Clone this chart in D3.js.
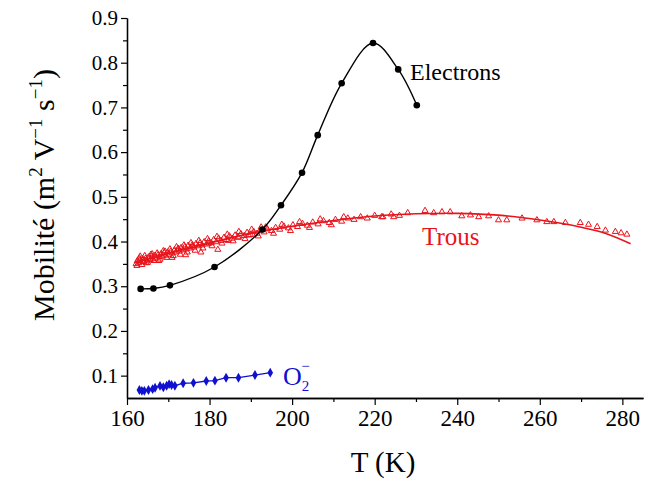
<!DOCTYPE html>
<html><head><meta charset="utf-8"><script src="https://cdn.jsdelivr.net/npm/d3@7"></script></head><body>
<svg id="c" width="648" height="481" style="position:absolute;left:0;top:0"></svg>
<script>
// ---------- data ----------
const xMajorTicks = [160, 180, 200, 220, 240, 260, 280];
const xMinorTicks = [170, 190, 210, 230, 250, 270];
const yMajorTicks = [0.1, 0.2, 0.3, 0.4, 0.5, 0.6, 0.7, 0.8, 0.9];
const yMinorTicks = [0.15, 0.25, 0.35, 0.45, 0.55, 0.65, 0.75, 0.85];

// Electrons (measured points)
const electronT = [163.3, 166.4, 170.4, 181.2, 192.8, 197.3, 202.4, 206.2, 212.0, 219.6, 225.7, 230.2];
const electronV = [0.294, 0.295, 0.302, 0.343, 0.427, 0.481, 0.554, 0.638, 0.754, 0.844, 0.785, 0.705];

// Trous (holes) measured points
const holeT = [162.2,162.5,162.8,163.1,163.4,163.8,164.1,164.5,164.9,165.2,165.6,166.0,166.3,166.7,167.1,167.5,167.9,168.2,168.6,169.0,
  169.4,169.8,170.2,170.6,171.0,171.5,171.9,172.3,172.7,173.1,173.6,174.0,174.4,174.8,175.3,175.8,176.2,176.7,177.2,177.7,
  178.2,178.7,179.3,179.8,180.4,181.0,181.6,182.2,182.8,183.5,184.1,184.8,185.5,186.2,186.9,187.6,188.4,189.1,189.9,190.7,
  191.5,192.3,193.2,194.0,195.0,196.0,197.0,198.0,199.1,200.2,201.3,202.5,203.7,205.0,206.3,207.6,209.0,210.5,212.0,213.5,
  215.0,216.6,218.2,220.0,221.7,222.0,224.0,224.6,226.0,228.0,232.2,234.3,236.3,238.3,241.1,243.2,245.2,247.6,250.0,252.0,
  255.7,259.3,261.7,263.4,266.2,269.8,271.8,273.9,275.9,278.3,279.7,281.1,
  162.4,163.0,163.6,164.3,165.0,165.8,166.5,167.3,168.0,168.8,169.6,170.4,171.2,172.0,172.9,173.8,174.6,175.5,176.5,177.4,
  178.4,179.5,180.6,181.8,183.0,184.3,185.7,187.1,188.6,190.2,191.8,193.6,195.5,197.5,199.6,201.8,204.2,206.8,209.5,212.5,
  163.2,164.7,166.1,167.7,169.2,170.9,172.5,174.2,176.0,177.9,179.9,182.0,184.5,187.0,189.5,192.5];
const holeV = [0.350,0.357,0.352,0.359,0.354,0.361,0.355,0.362,0.358,0.365,0.359,0.366,0.361,0.368,0.363,0.370,0.366,0.372,0.367,0.375,
  0.369,0.376,0.371,0.378,0.374,0.381,0.376,0.383,0.378,0.386,0.381,0.388,0.383,0.391,0.385,0.392,0.387,0.395,0.390,0.397,
  0.392,0.399,0.394,0.401,0.397,0.404,0.399,0.407,0.402,0.409,0.404,0.412,0.407,0.414,0.410,0.417,0.413,0.420,0.415,0.422,
  0.418,0.425,0.421,0.428,0.424,0.431,0.427,0.434,0.430,0.437,0.433,0.440,0.436,0.443,0.439,0.446,0.442,0.449,0.445,0.452,
  0.449,0.455,0.452,0.458,0.455,0.455,0.461,0.455,0.458,0.464,0.469,0.464,0.466,0.466,0.457,0.459,0.455,0.457,0.448,0.448,
  0.452,0.448,0.444,0.444,0.442,0.442,0.438,0.433,0.425,0.422,0.419,0.416,
  0.346,0.363,0.348,0.368,0.353,0.371,0.357,0.374,0.360,0.379,0.364,0.383,0.368,0.388,0.371,0.392,0.376,0.397,0.380,0.402,
  0.385,0.406,0.390,0.411,0.396,0.416,0.401,0.422,0.406,0.427,0.412,0.432,0.418,0.438,0.424,0.444,0.431,0.450,0.437,0.455,
  0.367,0.352,0.372,0.357,0.378,0.364,0.384,0.370,0.390,0.376,0.396,0.382,0.402,0.409,0.414,0.432];

// Trous fitted curve
const holeFitT = [162, 170, 180, 190, 200, 210, 220, 230, 240, 250, 260, 270, 276, 282];
const holeFitV = [0.353, 0.373, 0.396, 0.419, 0.434, 0.447, 0.457, 0.462, 0.463, 0.459, 0.448, 0.432, 0.418, 0.395];

// O2- points
const o2T = [163.0,163.6,164.2,165.2,166.2,166.8,168.0,168.8,169.6,170.2,170.8,171.6,173.6,176.1,179.2,181.3,184.0,187.0,191.0,194.7];
const o2V = [0.068,0.066,0.066,0.068,0.070,0.073,0.077,0.074,0.0775,0.081,0.079,0.0775,0.083,0.084,0.088,0.0887,0.0954,0.0954,0.1014,0.1066];

// ---------- drawing ----------
const svg = d3.select("#c");
const FONT = '"Times New Roman", monospace';
const RED = "#e8141c", BLUE = "#1010d0";

const x = d3.scaleLinear().domain([160, 285]).range([127, 643]);
const y = d3.scaleLinear().domain([0.05, 0.9]).range([398, 18]);

// axes (ticks and labels drawn from the scales)
const gx = svg.append("g").attr("transform", "translate(0,398)");
gx.call(d3.axisBottom(x).tickValues(xMajorTicks).tickSize(7).tickSizeOuter(0).tickPadding(5).tickFormat(d3.format("d")));
gx.append("g").call(d3.axisBottom(x).tickValues(xMinorTicks).tickSize(4).tickSizeOuter(0).tickFormat(""));
gx.attr("font-family", null).attr("font-size", null);
gx.selectAll("text").style("font-family", FONT).attr("font-size", 23).attr("fill", "#000");

const gy = svg.append("g").attr("transform", "translate(127,0)");
gy.call(d3.axisLeft(y).tickValues(yMajorTicks).tickSize(6).tickSizeOuter(0).tickPadding(3).tickFormat(d3.format(".1f")));
gy.append("g").call(d3.axisLeft(y).tickValues(yMinorTicks).tickSize(4).tickSizeOuter(0).tickFormat(""));
gy.attr("font-family", null).attr("font-size", null);
gy.selectAll("text").style("font-family", FONT).attr("font-size", 21).attr("fill", "#000");
svg.selectAll("g").attr("font-family", null);
svg.selectAll(".domain").attr("stroke", "#000").attr("stroke-width", 1.3);
svg.selectAll(".tick line").attr("stroke", "#000").attr("stroke-width", 1.2);

// Trous scatter (open triangles)
const holes = holeT.map((t, i) => ({t, v: holeV[i]}));
svg.append("g").selectAll("path").data(holes).join("path")
  .attr("d", d3.symbol().type(d3.symbolTriangle).size(16))
  .attr("transform", d => `translate(${x(d.t)},${y(d.v)})`)
  .attr("fill", "none").attr("stroke", RED).attr("stroke-width", 1);

// Trous fit line
const holeFit = holeFitT.map((t, i) => ({t, v: holeFitV[i]}));
svg.append("path").datum(holeFit)
  .attr("d", d3.line().x(d => x(d.t)).y(d => y(d.v)).curve(d3.curveCatmullRom.alpha(0.5)))
  .attr("fill", "none").attr("stroke", RED).attr("stroke-width", 1.6);

// Electrons fit line + points
const elec = electronT.map((t, i) => ({t, v: electronV[i]}));
svg.append("path").datum(elec)
  .attr("d", d3.line().x(d => x(d.t)).y(d => y(d.v)).curve(d3.curveCatmullRom.alpha(0.5)))
  .attr("fill", "none").attr("stroke", "#000").attr("stroke-width", 1.4);
svg.append("g").selectAll("circle").data(elec).join("circle")
  .attr("cx", d => x(d.t)).attr("cy", d => y(d.v)).attr("r", 3.3).attr("fill", "#000");

// O2- line + diamonds
const o2 = o2T.map((t, i) => ({t, v: o2V[i]}));
svg.append("path").datum(o2)
  .attr("d", d3.line().x(d => x(d.t)).y(d => y(d.v)))
  .attr("fill", "none").attr("stroke", BLUE).attr("stroke-width", 1.3);
svg.append("g").selectAll("path").data(o2).join("path")
  .attr("d", d3.symbol().type(d3.symbolDiamond).size(28))
  .attr("transform", d => `translate(${x(d.t)},${y(d.v)})`)
  .attr("fill", BLUE);

// texts
const labels = [
  {txt: "Electrons", x: 410, y: 80, size: 24, fill: "#000"},
  {txt: "Trous", x: 422, y: 245, size: 25, fill: RED}
];
svg.selectAll("text.lab").data(labels).join("text").attr("class", "lab")
  .attr("x", d => d.x).attr("y", d => d.y).attr("font-size", d => d.size)
  .style("font-family", FONT).attr("fill", d => d.fill).text(d => d.txt);

const o2lab = svg.append("text").attr("x", 283).attr("y", 385).style("font-family", FONT).attr("font-size", 26).attr("fill", BLUE);
o2lab.append("tspan").text("O");
o2lab.append("tspan").attr("font-size", 15).attr("dy", 6).text("2");
o2lab.append("tspan").attr("font-size", 15).attr("dx", -8).attr("dy", -20).text("\u2212");

svg.append("text").attr("x", 383).attr("y", 472).attr("text-anchor", "middle")
  .style("font-family", FONT).attr("font-size", 29).attr("fill", "#000").text("T (K)");

const yt = svg.append("text").attr("transform", "translate(54,195) rotate(-90)")
  .attr("text-anchor", "middle").style("font-family", FONT).attr("font-size", 30).attr("fill", "#000");
yt.append("tspan").text("Mobilité (m");
yt.append("tspan").attr("font-size", 19).attr("dy", -12).text("2");
yt.append("tspan").attr("dy", 12).text(" V");
yt.append("tspan").attr("font-size", 19).attr("dy", -12).text("\u22121");
yt.append("tspan").attr("dy", 12).text(" s");
yt.append("tspan").attr("font-size", 19).attr("dy", -12).text("\u22121");
yt.append("tspan").attr("dy", 12).text(")");
</script>
</body></html>
